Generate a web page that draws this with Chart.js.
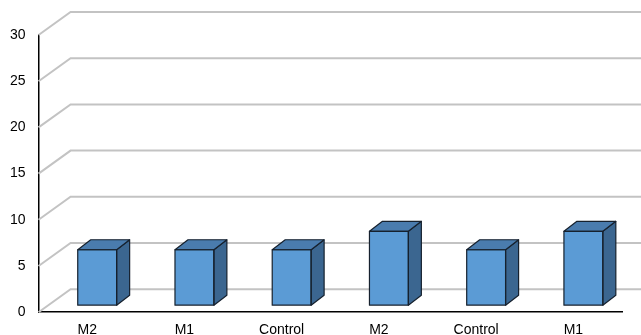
<!DOCTYPE html>
<html>
<head>
<meta charset="utf-8">
<script src="https://cdn.jsdelivr.net/npm/chart.js@4.4.1/dist/chart.umd.min.js"></script>
<style>
  html, body { margin: 0; padding: 0; background: #ffffff; }
  #wrap { width: 641px; height: 335px; }
</style>
</head>
<body>
<div id="wrap"><canvas id="chart"></canvas></div>
<script>
const categories = ['M2', 'M1', 'Control', 'M2', 'Control', 'M1']
const values = [6, 6, 6, 8, 6, 8]
const yTicks = [0, 5, 10, 15, 20, 25, 30]

// depth of the 3d box (back wall offset) and where bars sit in it
const WALL_DX = 32
const WALL_DY = -23
const BAR_DX = 10
const BAR_DY = -7
const BAR_DEPTH_X = 13
const BAR_DEPTH_Y = -10

const walls = {
  id: 'walls',
  beforeDatasetsDraw: function (chart) {
    const {
      ctx,
      chartArea: { left },
      scales: { y },
    } = chart
    ctx.save()
    ctx.strokeStyle = '#c3c3c3'
    ctx.lineWidth = 2
    yTicks.forEach((v) => {
      const py = y.getPixelForValue(v)
      ctx.beginPath()
      ctx.moveTo(left, py)
      ctx.lineTo(left + WALL_DX, py + WALL_DY)
      ctx.lineTo(chart.width + 20, py + WALL_DY)
      ctx.stroke()
    })
    ctx.restore()
  },
}

const bars3d = {
  id: 'bars3d',
  beforeDatasetsDraw: function (chart) {
    chart.ctx.save()
    chart.ctx.translate(BAR_DX, BAR_DY)
  },
  afterDatasetsDraw: function (chart) {
    const ctx = chart.ctx
    const meta = chart.getDatasetMeta(0)
    ctx.lineWidth = 1.2
    ctx.strokeStyle = '#16212e'
    ctx.lineJoin = 'round'
    meta.data.forEach((bar) => {
      const { x, y, base, width } = bar.getProps(['x', 'y', 'base', 'width'], true)
      const l = x - width / 2
      const r = x + width / 2
      // side face
      ctx.beginPath()
      ctx.moveTo(r, y)
      ctx.lineTo(r + BAR_DEPTH_X, y + BAR_DEPTH_Y)
      ctx.lineTo(r + BAR_DEPTH_X, base + BAR_DEPTH_Y)
      ctx.lineTo(r, base)
      ctx.closePath()
      ctx.fillStyle = '#3b6690'
      ctx.fill()
      ctx.stroke()
      // top face
      ctx.beginPath()
      ctx.moveTo(l, y)
      ctx.lineTo(l + BAR_DEPTH_X, y + BAR_DEPTH_Y)
      ctx.lineTo(r + BAR_DEPTH_X, y + BAR_DEPTH_Y)
      ctx.lineTo(r, y)
      ctx.closePath()
      ctx.fillStyle = '#4a7cae'
      ctx.fill()
      ctx.stroke()
      // front outline on top
      ctx.strokeRect(l, y, width, base - y)
    })
    ctx.restore()
  },
}

new Chart(document.getElementById('chart'), {
  type: 'bar',
  data: {
    labels: categories,
    datasets: [
      {
        data: values,
        backgroundColor: '#5b9bd5',
        borderWidth: 0,
        barPercentage: 0.8,
        categoryPercentage: 0.5,
      },
    ],
  },
  options: {
    responsive: true,
    maintainAspectRatio: false,
    animation: false,
    layout: {
      padding: { top: 35, right: 19, left: 5, bottom: -6 },
    },
    plugins: {
      legend: { display: false },
      tooltip: { enabled: false },
    },
    scales: {
      x: {
        grid: { display: false },
        border: { display: true, color: '#000000', width: 1.5 },
        ticks: {
          color: '#000000',
          font: { family: "'Liberation Sans', Arial, sans-serif", size: 14 },
          padding: 2,
          maxRotation: 0,
        },
      },
      y: {
        min: 0,
        max: 30,
        grid: { display: false },
        border: { display: true, color: '#000000', width: 1.5 },
        afterBuildTicks: (axis) => {
          axis.ticks = yTicks.map((v) => ({ value: v }))
        },
        ticks: {
          color: '#000000',
          font: { family: "'Liberation Sans', Arial, sans-serif", size: 14 },
          padding: 5,
        },
      },
    },
  },
  plugins: [walls, bars3d],
})
</script>
</body>
</html>
